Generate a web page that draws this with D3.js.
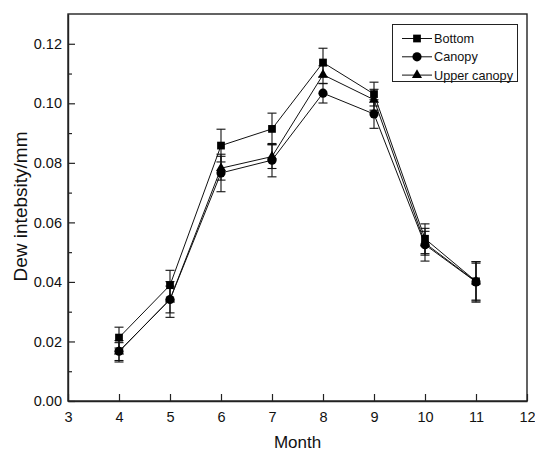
<!DOCTYPE html>
<html>
<head>
<meta charset="utf-8">
<script src="https://cdn.jsdelivr.net/npm/d3@7"></script>
<style>
  body { margin: 0; background: #fff; }
  svg { display: block; font-family: "Liberation Sans", Arial, sans-serif; }
</style>
</head>
<body>
<svg id="chart" width="535" height="453"></svg>
<script>
// months on the x axis
const months = [4, 5, 6, 7, 8, 9, 10, 11];

// mean dew intensity per layer (mm)
const bottomVals = [0.0213, 0.0389, 0.0858, 0.0914, 0.1137, 0.1031, 0.0545, 0.0402];
const canopyVals = [0.0167, 0.0341, 0.0766, 0.0809, 0.1034, 0.0964, 0.0525, 0.0400];
const upperVals  = [0.0166, 0.0341, 0.0782, 0.0821, 0.1096, 0.1012, 0.0530, 0.0401];

// error bar half widths
const bottomErr = [0.0035, 0.0050, 0.0055, 0.0053, 0.0048, 0.0040, 0.0050, 0.0066];
const canopyErr = [0.0036, 0.0060, 0.0063, 0.0056, 0.0033, 0.0048, 0.0055, 0.0068];
const upperErr  = [0.0030, 0.0045, 0.0040, 0.0040, 0.0030, 0.0035, 0.0040, 0.0062];

const seriesNames = ['Bottom', 'Canopy', 'Upper canopy'];
const xTicks = [3, 4, 5, 6, 7, 8, 9, 10, 11, 12];
const yTicks = [0.00, 0.02, 0.04, 0.06, 0.08, 0.10, 0.12];
const yMinor = [0.01, 0.03, 0.05, 0.07, 0.09, 0.11];

const margin = { top: 14, right: 8, bottom: 52, left: 68 };
const width = 535, height = 453;

const svg = d3.select('#chart');

const x = d3.scaleLinear().domain([3, 12]).range([margin.left, width - margin.right]);
const y = d3.scaleLinear().domain([0, 0.13]).range([height - margin.bottom, margin.top]);

const series = [
    { name: seriesNames[0], vals: bottomVals, err: bottomErr, shape: d3.symbolSquare, size: 60 },
    { name: seriesNames[1], vals: canopyVals, err: canopyErr, shape: d3.symbolCircle, size: 66 },
    { name: seriesNames[2], vals: upperVals, err: upperErr, shape: d3.symbolTriangle, size: 44 }
];

// frame
svg.append('rect')
    .attr('x', x(3))
    .attr('y', y(0.13))
    .attr('width', x(12) - x(3))
    .attr('height', y(0) - y(0.13))
    .attr('fill', 'none')
    .attr('stroke', '#222')
    .attr('stroke-width', 1.4);

// x axis
const xAxis = svg.append('g')
    .attr('transform', `translate(0, ${y(0)})`)
    .call(d3.axisBottom(x).tickValues(xTicks).tickFormat(d3.format('d'))
        .tickSizeInner(-7).tickSizeOuter(0).tickPadding(11));
xAxis.select('.domain').attr('stroke', '#222').attr('stroke-width', 1.4);
xAxis.selectAll('line').attr('stroke', '#222').attr('stroke-width', 1.2);
xAxis.selectAll('text').style('font-size', '14.5px').attr('fill', '#111')
    .attr('font-family', '"Liberation Sans", Arial, sans-serif');

// y axis
const yAxis = svg.append('g')
    .attr('transform', `translate(${x(3)}, 0)`)
    .call(d3.axisLeft(y).tickValues(yTicks).tickFormat(d3.format('.2f'))
        .tickSizeInner(-7).tickSizeOuter(0).tickPadding(6));
yAxis.select('.domain').attr('stroke', '#222').attr('stroke-width', 1.4);
yAxis.selectAll('line').attr('stroke', '#222').attr('stroke-width', 1.2);
yAxis.selectAll('text').style('font-size', '14.5px').attr('fill', '#111')
    .attr('font-family', '"Liberation Sans", Arial, sans-serif');

// minor ticks
const yMinorAxis = svg.append('g')
    .attr('transform', `translate(${x(3)}, 0)`)
    .call(d3.axisLeft(y).tickValues(yMinor).tickFormat('').tickSizeInner(-4).tickSizeOuter(0));
yMinorAxis.select('.domain').remove();
yMinorAxis.selectAll('line').attr('stroke', '#222').attr('stroke-width', 1.2);

// axis titles
svg.append('text')
    .attr('x', (x(3) + x(12)) / 2)
    .attr('y', 448)
    .attr('text-anchor', 'middle')
    .attr('font-size', '17px')
    .attr('fill', '#111')
    .text('Month');

svg.append('text')
    .attr('transform', `translate(27, ${(y(0) + y(0.13)) / 2 - 1}) rotate(-90)`)
    .attr('text-anchor', 'middle')
    .attr('font-size', '19px')
    .attr('fill', '#111')
    .text('Dew intebsity/mm');

const line = d3.line()
    .x((d, i) => x(months[i]))
    .y(d => y(d));

// lines + error bars
series.forEach(s => {
    svg.append('path')
        .datum(s.vals)
        .attr('fill', 'none')
        .attr('stroke', '#111')
        .attr('stroke-width', 1)
        .attr('d', line);

    const eb = svg.append('g');
    s.vals.forEach((v, i) => {
        const cx = x(months[i]);
        const top = y(v + s.err[i]);
        const bot = y(v - s.err[i]);
        eb.append('line').attr('x1', cx).attr('x2', cx).attr('y1', top).attr('y2', bot)
            .attr('stroke', '#111').attr('stroke-width', 1.1);
        [top, bot].forEach(yy => {
            eb.append('line').attr('x1', cx - 4.5).attr('x2', cx + 4.5).attr('y1', yy).attr('y2', yy)
                .attr('stroke', '#111').attr('stroke-width', 1.1);
        });
    });
});

// markers: triangles first so circles hide them where they overlap
[series[2], series[1], series[0]].forEach(s => {
    svg.append('g').selectAll('path')
        .data(s.vals)
        .enter()
        .append('path')
        .attr('transform', (d, i) => `translate(${x(months[i])}, ${y(d)})`)
        .attr('d', d3.symbol().type(s.shape).size(s.size))
        .attr('fill', '#000');
});

// legend
const legend = svg.append('g');
legend.append('rect')
    .attr('x', 392.5)
    .attr('y', 24.5)
    .attr('width', 125)
    .attr('height', 57)
    .attr('fill', '#fff')
    .attr('stroke', '#222')
    .attr('stroke-width', 1);

series.forEach((s, i) => {
    const ly = 38.5 + i * 18.3;
    legend.append('line')
        .attr('x1', 402).attr('x2', 432).attr('y1', ly).attr('y2', ly)
        .attr('stroke', '#111').attr('stroke-width', 1);
    legend.append('path')
        .attr('transform', `translate(417, ${ly})`)
        .attr('d', d3.symbol().type(s.shape).size(s.size))
        .attr('fill', '#000');
    legend.append('text')
        .attr('x', 434)
        .attr('y', ly)
        .attr('dy', '0.35em')
        .attr('font-size', '12.7px')
        .attr('fill', '#111')
        .text(s.name);
});
</script>
</body>
</html>
